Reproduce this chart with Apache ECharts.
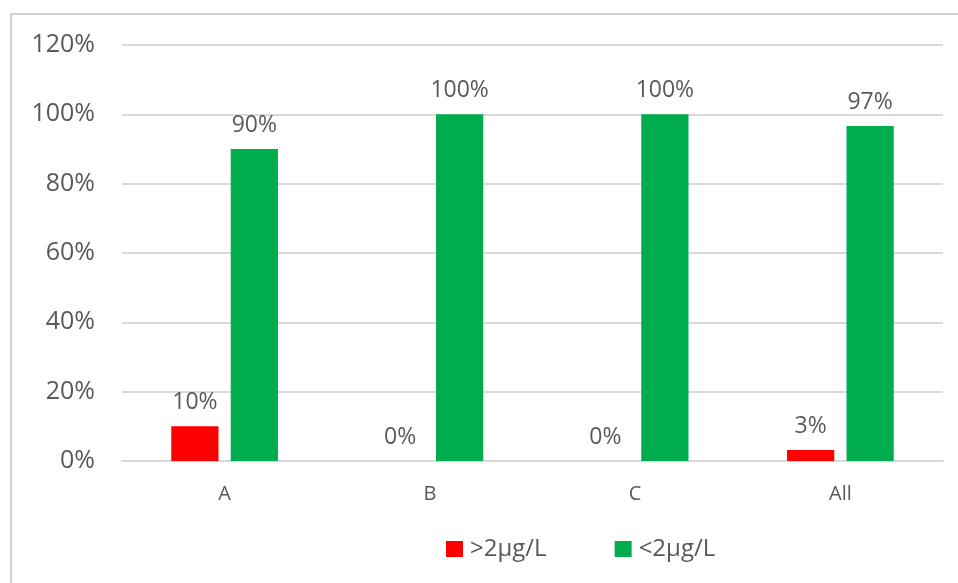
<!DOCTYPE html>
<html><head><meta charset="utf-8">
<script src="https://cdn.jsdelivr.net/npm/echarts@6/dist/echarts.min.js"></script>
<style>html,body{margin:0;padding:0;background:#fff}#c{width:958px;height:583px}</style>
</head><body><div id="c"></div>
<script>
var categories = ['A', 'B', 'C', 'All'];
var seriesNames = ['>2\u00b5g/L', '<2\u00b5g/L'];
var above2 = [10, 0, 0, 3.2];
var below2 = [90, 100, 100, 96.6];
var yTicks = [0, 20, 40, 60, 80, 100, 120];

var FONT = 'Open Sans';
var TXT = '#595959';
var chart = echarts.init(document.getElementById('c'), null, {renderer: 'canvas'});
var labelCfg = {
  show: true, position: 'top', distance: 12, color: TXT, fontFamily: FONT, fontSize: 23,
  formatter: function (p) { return Math.round(p.value) + '%'; }
};
chart.setOption({
  animation: false,
  graphic: [{
    type: 'polyline', shape: {points: [[11, 583], [11, 14], [958, 14]]},
    style: {stroke: '#d0d0d0', lineWidth: 2, fill: null}
  }],
  legend: {
    bottom: 17, left: 441, itemGap: 68, itemWidth: 17, itemHeight: 16,
    icon: 'rect', textStyle: {color: TXT, fontFamily: FONT, fontSize: 24, padding: [0, 0, 0, 2]}
  },
  grid: {left: 122, right: 15, top: 45, bottom: 122, containLabel: false},
  xAxis: {
    type: 'category', data: categories,
    axisLine: {lineStyle: {color: '#d9d9d9', width: 2}},
    axisTick: {show: false},
    axisLabel: {color: TXT, fontFamily: FONT, fontSize: 20, margin: 23}
  },
  yAxis: {
    type: 'value', min: yTicks[0], max: yTicks[yTicks.length - 1], interval: 20,
    axisLine: {show: false}, axisTick: {show: false},
    splitLine: {lineStyle: {color: '#d9d9d9', width: 2}},
    axisLabel: {color: TXT, fontFamily: FONT, fontSize: 25, margin: 27, formatter: '{value}%'}
  },
  series: [
    {name: seriesNames[0], type: 'bar', data: above2, barWidth: '23%', barGap: '26%',
     itemStyle: {color: '#ff0000'}, label: labelCfg},
    {name: seriesNames[1], type: 'bar', data: below2, barWidth: '23%',
     itemStyle: {color: '#00ad4e'}, label: labelCfg}
  ]
});
</script></body></html>
